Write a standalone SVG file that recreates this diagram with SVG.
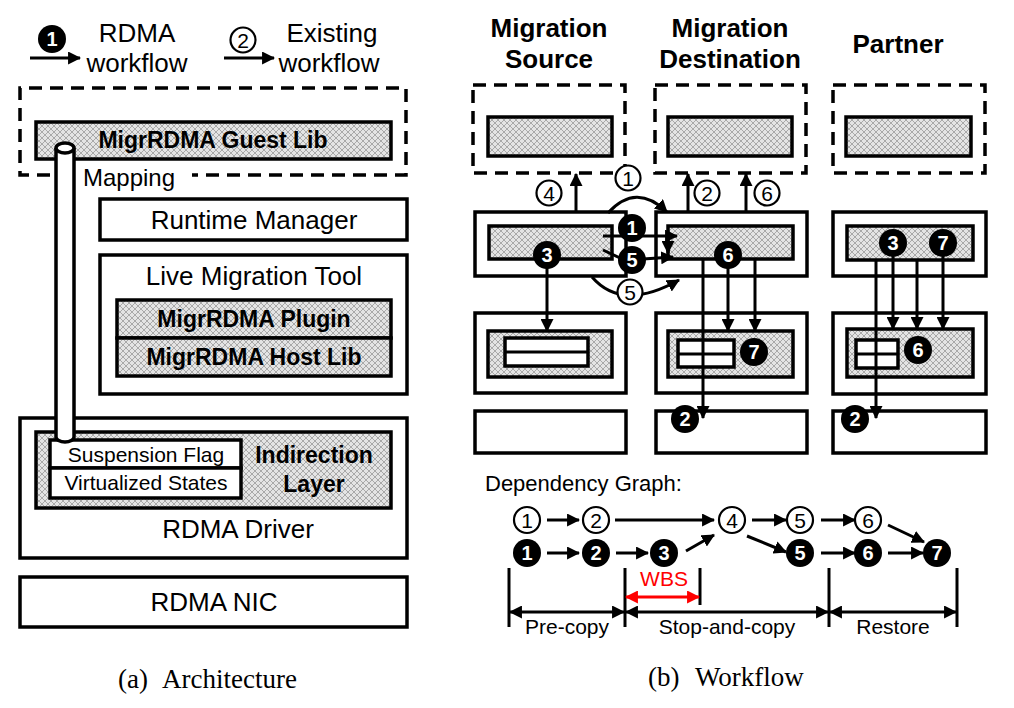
<svg xmlns="http://www.w3.org/2000/svg" width="1014" height="708" viewBox="0 0 1014 708">
<style>
.t{font-family:"Liberation Sans",Arial,sans-serif;fill:#000}
.c{text-anchor:middle}
.b{font-weight:bold}
.s26{font-size:26px}
.s24{font-size:24px}
.s23{font-size:23px}
.s22{font-size:22px}
.s21{font-size:21px}
.serif{font-family:"Liberation Serif","Times New Roman",serif;font-size:27px;fill:#000}
.box{fill:#fff;stroke:#000;stroke-width:3.5}
.hbox{fill:url(#hatch);stroke:#000;stroke-width:3.5}
.dash{fill:none;stroke:#000;stroke-width:3.5;stroke-dasharray:13 8}
.bc{fill:#000}
.wc{fill:#fff;stroke:#000;stroke-width:2.2}
.bn{font-family:"Liberation Sans",Arial,sans-serif;font-weight:bold;font-size:20px;fill:#fff;text-anchor:middle}
.wn{font-family:"Liberation Sans",Arial,sans-serif;font-size:21px;fill:#000;text-anchor:middle}
.ln{stroke:#000;stroke-width:3;fill:none}
.ar{stroke:#000;stroke-width:3;fill:none;marker-end:url(#ah)}
.dar{stroke:#000;stroke-width:3;fill:none;marker-start:url(#ah);marker-end:url(#ah)}
.red{stroke:#f00;stroke-width:3;fill:none;marker-start:url(#rh);marker-end:url(#rh)}
</style>
<defs>
<pattern id="hatch" width="6" height="6" patternUnits="userSpaceOnUse">
<rect width="6" height="6" fill="#e4e4e4"/>
<path d="M0,0 L6,6 M6,0 L0,6" stroke="#9a9a9a" stroke-width="0.8"/>
</pattern>
<marker id="ah" viewBox="0 0 12 12" markerWidth="13" markerHeight="13" markerUnits="userSpaceOnUse" refX="11" refY="6" orient="auto-start-reverse">
<path d="M0,0 L12,6 L0,12 z" fill="#000"/>
</marker>
<marker id="rh" viewBox="0 0 12 12" markerWidth="13" markerHeight="13" markerUnits="userSpaceOnUse" refX="11" refY="6" orient="auto-start-reverse">
<path d="M0,0 L12,6 L0,12 z" fill="#f00"/>
</marker>
</defs>

<!-- Legend -->
<g id="legend">
<circle class="bc" cx="52" cy="39" r="14"/>
<text class="bn" x="52" y="46">1</text>
<line class="ar" x1="30" y1="58" x2="80" y2="58"/>
<text class="t c s26" x="137" y="42">RDMA</text>
<text class="t c s26" x="137" y="72">workflow</text>
<circle class="wc" cx="243" cy="40" r="12.5"/>
<text class="wn" x="243" y="47.5">2</text>
<line class="ar" x1="224" y1="58" x2="274" y2="58"/>
<text class="t c s26" x="332" y="42">Existing</text>
<text class="t c s26" x="329" y="72">workflow</text>
</g>

<!-- (a) Architecture -->
<g id="guest">
<path class="dash" d="M50,175 L20,175 L20,88 L406,88 L406,175 L192,175"/>
<rect class="hbox" x="36" y="122" width="355" height="37"/>
<text class="t c b s23" x="213" y="148">MigrRDMA Guest Lib</text>
<text class="t s24" x="83" y="186">Mapping</text>
</g>
<g id="runtime">
<rect class="box" x="100" y="199" width="307" height="41"/>
<text class="t c s26" x="254" y="229">Runtime Manager</text>
</g>
<g id="lmt">
<rect class="box" x="100" y="255" width="307" height="139"/>
<text class="t c s26" x="254" y="285">Live Migration Tool</text>
<rect class="hbox" x="117" y="300" width="274" height="38"/>
<text class="t c b s23" x="254" y="327">MigrRDMA Plugin</text>
<rect class="hbox" x="117" y="338" width="274" height="38"/>
<text class="t c b s23" x="254" y="365">MigrRDMA Host Lib</text>
</g>
<g id="driver">
<rect class="box" x="20" y="418" width="387" height="140"/>
<rect class="hbox" x="36" y="432" width="355" height="76"/>
<rect class="box" x="50" y="440" width="191" height="28"/>
<text class="t c s21" x="146" y="462">Suspension Flag</text>
<rect class="box" x="50" y="468" width="191" height="30"/>
<text class="t c s21" x="146" y="490">Virtualized States</text>
<text class="t c b s23" x="314" y="463">Indirection</text>
<text class="t c b s23" x="314" y="492">Layer</text>
<text class="t c s26" x="238" y="538">RDMA Driver</text>
</g>
<g id="cylinder">
<path d="M56,148 L56,437 A9,5 0 0 0 74,437 L74,148" fill="#fff" stroke="#000" stroke-width="3.5"/>
<ellipse cx="65" cy="148" rx="9" ry="5" fill="#fff" stroke="#000" stroke-width="3.5"/>
</g>
<g id="nic">
<rect class="box" x="20" y="577" width="387" height="50"/>
<text class="t c s26" x="214" y="611">RDMA NIC</text>
</g>
<text class="serif" x="118" y="688">(a)</text>
<text class="serif" x="162" y="688">Architecture</text>

<!-- (b) Workflow -->
<g id="titles">
<text class="t c b s26" x="549" y="37">Migration</text>
<text class="t c b s26" x="549" y="68">Source</text>
<text class="t c b s26" x="730" y="37">Migration</text>
<text class="t c b s26" x="730" y="68">Destination</text>
<text class="t c b s26" x="898" y="53">Partner</text>
</g>

<g id="source">
<rect class="dash" x="473" y="85" width="152" height="88"/>
<rect class="hbox" x="488" y="117" width="124" height="39"/>
<rect class="box" x="475" y="212" width="151" height="64"/>
<rect class="hbox" x="489" y="226" width="123" height="33"/>
<rect class="box" x="475" y="313" width="151" height="80"/>
<rect class="hbox" x="488" y="331" width="124" height="46"/>
<rect class="box" x="505" y="338" width="83" height="28"/>
<line class="ln" x1="505" y1="352" x2="588" y2="352"/>
<rect class="box" x="475" y="411" width="151" height="42"/>
</g>

<g id="destination">
<rect class="dash" x="655" y="85" width="151" height="88"/>
<rect class="hbox" x="668" y="117" width="124" height="39"/>
<rect class="box" x="656" y="212" width="151" height="64"/>
<rect class="hbox" x="668" y="226" width="125" height="33"/>
<rect class="box" x="656" y="313" width="151" height="80"/>
<rect class="hbox" x="668" y="331" width="125" height="46"/>
<rect class="box" x="678" y="340" width="56" height="27"/>
<line class="ln" x1="678" y1="354" x2="734" y2="354"/>
<rect class="box" x="656" y="411" width="151" height="42"/>
</g>

<g id="partner">
<rect class="dash" x="833" y="85" width="152" height="88"/>
<rect class="hbox" x="846" y="117" width="125" height="39"/>
<rect class="box" x="833" y="212" width="153" height="64"/>
<rect class="hbox" x="847" y="226" width="126" height="34"/>
<rect class="box" x="833" y="313" width="153" height="81"/>
<rect class="hbox" x="847" y="329" width="126" height="48"/>
<rect class="box" x="856" y="340" width="42" height="28"/>
<line class="ln" x1="856" y1="354" x2="898" y2="354"/>
<rect class="box" x="833" y="411" width="153" height="42"/>
</g>

<g id="connectors">
<line class="ar" x1="576" y1="212" x2="576" y2="174"/>
<line class="ar" x1="688" y1="212" x2="688" y2="174"/>
<line class="ar" x1="746" y1="212" x2="746" y2="174"/>
<path class="ar" d="M608,213 Q636,182 667,212"/>
<path class="ar" d="M592,277 Q622,312 679,280"/>
<line class="ar" x1="603" y1="236" x2="677" y2="236"/>
<line class="ar" x1="668" y1="236" x2="668" y2="253"/>
<line class="ln" x1="603" y1="250" x2="620" y2="258"/>
<line class="ar" x1="643" y1="259" x2="673" y2="257"/>
<line class="ar" x1="547" y1="262" x2="547" y2="331"/>
<line class="ar" x1="703" y1="259" x2="703" y2="418"/>
<line class="ar" x1="728" y1="262" x2="728" y2="331"/>
<line class="ar" x1="755" y1="259" x2="755" y2="331"/>
<line class="ar" x1="876" y1="260" x2="876" y2="418"/>
<line class="ar" x1="893" y1="250" x2="893" y2="329"/>
<line class="ar" x1="917" y1="260" x2="917" y2="329"/>
<line class="ar" x1="943" y1="250" x2="943" y2="329"/>
</g>

<g id="markers">
<circle class="wc" cx="549" cy="193" r="12.5"/><text class="wn" x="549" y="200.5">4</text>
<circle class="wc" cx="628" cy="178" r="12.5"/><text class="wn" x="628" y="185.5">1</text>
<circle class="wc" cx="707" cy="193" r="12.5"/><text class="wn" x="707" y="200.5">2</text>
<circle class="wc" cx="767" cy="193" r="12.5"/><text class="wn" x="767" y="200.5">6</text>
<circle class="wc" cx="630" cy="292" r="12.5"/><text class="wn" x="630" y="299.5">5</text>
<circle class="bc" cx="632" cy="228" r="14"/><text class="bn" x="632" y="235">1</text>
<circle class="bc" cx="632" cy="260" r="14"/><text class="bn" x="632" y="267">5</text>
<circle class="bc" cx="547" cy="255" r="14"/><text class="bn" x="547" y="262">3</text>
<circle class="bc" cx="728" cy="255" r="14"/><text class="bn" x="728" y="262">6</text>
<circle class="bc" cx="754" cy="352" r="14"/><text class="bn" x="754" y="359">7</text>
<circle class="bc" cx="685" cy="419" r="14"/><text class="bn" x="685" y="426">2</text>
<circle class="bc" cx="893" cy="243" r="14"/><text class="bn" x="893" y="250">3</text>
<circle class="bc" cx="943" cy="243" r="14"/><text class="bn" x="943" y="250">7</text>
<circle class="bc" cx="918" cy="350" r="14"/><text class="bn" x="918" y="357">6</text>
<circle class="bc" cx="855" cy="419" r="14"/><text class="bn" x="855" y="426">2</text>
</g>

<g id="depgraph">
<text class="t s22" x="485" y="491">Dependency Graph:</text>
<g id="dep-edges">
<line class="ar" x1="547" y1="520" x2="579" y2="520"/>
<line class="ar" x1="615" y1="520" x2="714" y2="520"/>
<line class="ar" x1="752" y1="520" x2="786" y2="520"/>
<line class="ar" x1="821" y1="520" x2="855" y2="520"/>
<line class="ar" x1="888" y1="525" x2="924" y2="542"/>
<line class="ar" x1="547" y1="553" x2="579" y2="553"/>
<line class="ar" x1="616" y1="553" x2="648" y2="553"/>
<line class="ar" x1="686" y1="551" x2="714" y2="535"/>
<line class="ar" x1="747" y1="536" x2="786" y2="552"/>
<line class="ar" x1="821" y1="553" x2="855" y2="553"/>
<line class="ar" x1="888" y1="553" x2="923" y2="553"/>
</g>
<circle class="wc" cx="527" cy="520" r="13"/><text class="wn" x="527" y="527.5">1</text>
<circle class="wc" cx="596" cy="520" r="13"/><text class="wn" x="596" y="527.5">2</text>
<circle class="wc" cx="732" cy="520" r="13"/><text class="wn" x="732" y="527.5">4</text>
<circle class="wc" cx="800" cy="520" r="13"/><text class="wn" x="800" y="527.5">5</text>
<circle class="wc" cx="868" cy="520" r="13"/><text class="wn" x="868" y="527.5">6</text>
<circle class="bc" cx="527" cy="553" r="14"/><text class="bn" x="527" y="560">1</text>
<circle class="bc" cx="596" cy="553" r="14"/><text class="bn" x="596" y="560">2</text>
<circle class="bc" cx="664" cy="553" r="14"/><text class="bn" x="664" y="560">3</text>
<circle class="bc" cx="800" cy="553" r="14"/><text class="bn" x="800" y="560">5</text>
<circle class="bc" cx="868" cy="553" r="14"/><text class="bn" x="868" y="560">6</text>
<circle class="bc" cx="937" cy="553" r="14"/><text class="bn" x="937" y="560">7</text>
</g>

<g id="timeline">
<line class="ln" x1="509" y1="568" x2="509" y2="627"/>
<line class="ln" x1="625" y1="568" x2="625" y2="627"/>
<line class="ln" x1="700" y1="568" x2="700" y2="605"/>
<line class="ln" x1="829" y1="568" x2="829" y2="627"/>
<line class="ln" x1="957" y1="568" x2="957" y2="627"/>
<line class="dar" x1="510" y1="612" x2="624" y2="612"/>
<line class="dar" x1="626" y1="612" x2="828" y2="612"/>
<line class="dar" x1="830" y1="612" x2="956" y2="612"/>
<line class="red" x1="626" y1="597" x2="699" y2="597"/>
<text class="c s21" x="664" y="586" style="font-family:'Liberation Sans',Arial,sans-serif;fill:#f00">WBS</text>
<text class="t c s21" x="567" y="634">Pre-copy</text>
<text class="t c s21" x="727" y="634">Stop-and-copy</text>
<text class="t c s21" x="893" y="634">Restore</text>
</g>
<text class="serif" x="648" y="686">(b)</text>
<text class="serif" x="695" y="686">Workflow</text>
</svg>
